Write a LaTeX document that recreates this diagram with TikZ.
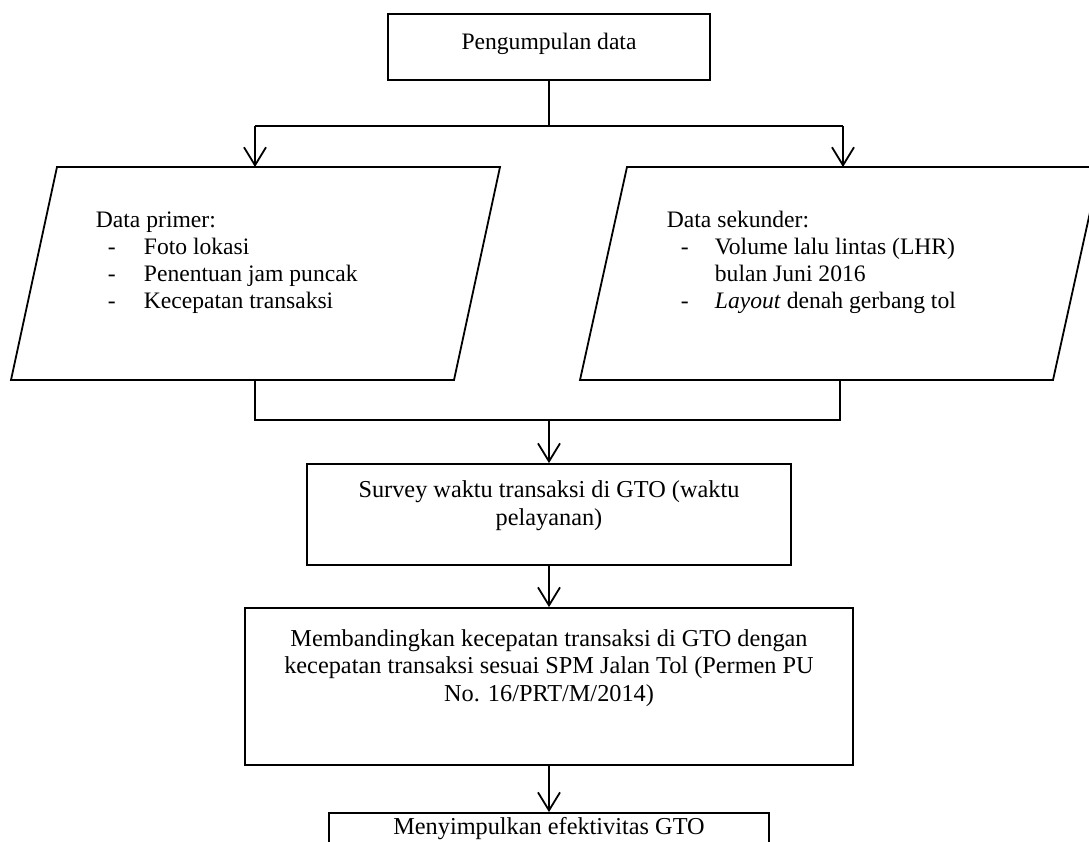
\documentclass[tikz,border=0pt]{standalone}
\usepackage{fontspec}
\setmainfont{Liberation Serif}
\usetikzlibrary{arrows.meta}
\begin{document}
\begin{tikzpicture}[x=1pt,y=-1pt,
  line width=1.8pt,
  box/.style={draw, rectangle, inner sep=0pt},
  txt/.style={inner sep=0pt, anchor=base, font=\fontsize{23.6}{28}\selectfont},
  btxt/.style={inner sep=0pt, anchor=base, font=\fontsize{24.3}{28}\selectfont},
  ltxt/.style={txt, anchor=base west},
  arr/.style={-{Straight Barb[length=18pt,width=22pt]}},
  ]
\useasboundingbox (0,0) rectangle (1089,841);
\clip (0,0) rectangle (1089,841);
% top box
\node[box, minimum width=322pt, minimum height=66pt] (top) at (549,47) {};
\node[txt] (topt) at (549,49) {Pengumpulan data};
% junction
\coordinate (jt) at (549,126);
\coordinate (jl) at (255,126);
\coordinate (jr) at (843,126);
\coordinate (pin) at (255,167);
\coordinate (sin) at (843,167);
\draw (top.south) -- (jt);
\draw (jl) -- (jr);
\draw[arr] (jl) -- (pin);
\draw[arr] (jr) -- (sin);
% parallelograms
\coordinate (p1) at (57,167); \coordinate (p2) at (500,167);
\coordinate (p3) at (454,380); \coordinate (p4) at (11,380);
\draw[line join=miter] (p1) -- (p2) -- (p3) -- (p4) -- cycle;
\coordinate (s1) at (627,167); \coordinate (s2) at (1100,167);
\coordinate (s3) at (1053,380); \coordinate (s4) at (580,380);
\draw[line join=miter] (s1) -- (s2) -- (s3) -- (s4) -- cycle;
% primer text
\node[ltxt] (pt0) at (95,227) {Data primer:};
\node[ltxt] (pd1) at (107,254) {-};
\node[ltxt] (pt1) at (143,254) {Foto lokasi};
\node[ltxt] (pd2) at (107,281) {-};
\node[ltxt] (pt2) at (143,281) {Penentuan jam puncak};
\node[ltxt] (pd3) at (107,308) {-};
\node[ltxt] (pt3) at (143,308) {Kecepatan transaksi};
% sekunder text
\node[ltxt] (st0) at (666,227) {Data sekunder:};
\node[ltxt] (sd1) at (680,254) {-};
\node[ltxt] (st1) at (714,254) {Volume lalu lintas (LHR)};
\node[ltxt] (st2) at (714,281) {bulan Juni 2016};
\node[ltxt] (sd3) at (680,308) {-};
\node[ltxt] (st3) at (714,308) {\textit{Layout} denah gerbang tol};
% merge
\coordinate (pout) at (255,380);
\coordinate (sout) at (840,380);
\coordinate (bl) at (255,420);
\coordinate (br) at (840,420);
\coordinate (bm) at (549,420);
\draw (pout) -- (bl) -- (br) -- (sout);
% survey
\node[box, minimum width=484pt, minimum height=101pt] (survey) at (549,514.5) {};
\node[btxt] (sv1) at (549,497) {Survey waktu transaksi di GTO (waktu};
\node[btxt] (sv2) at (549,525) {pelayanan)};
\draw[arr] (bm) -- (survey.north);
% banding
\node[box, minimum width=608pt, minimum height=157pt] (banding) at (549,686.5) {};
\node[btxt] (b1) at (549,646) {Membandingkan kecepatan transaksi di GTO dengan};
\node[btxt] (b2) at (549,673) {kecepatan transaksi sesuai SPM Jalan Tol (Permen PU};
\node[btxt] (b3) at (549,701) {No. 16/PRT/M/2014)};
\draw[arr] (survey.south) -- (banding.north);
% simpul
\node[box, minimum width=440pt, minimum height=60pt] (simpul) at (549,843) {};
\node[btxt] (sp1) at (549,834) {Menyimpulkan efektivitas GTO};
\draw[arr] (banding.south) -- (simpul.north);
\end{tikzpicture}
\end{document}
